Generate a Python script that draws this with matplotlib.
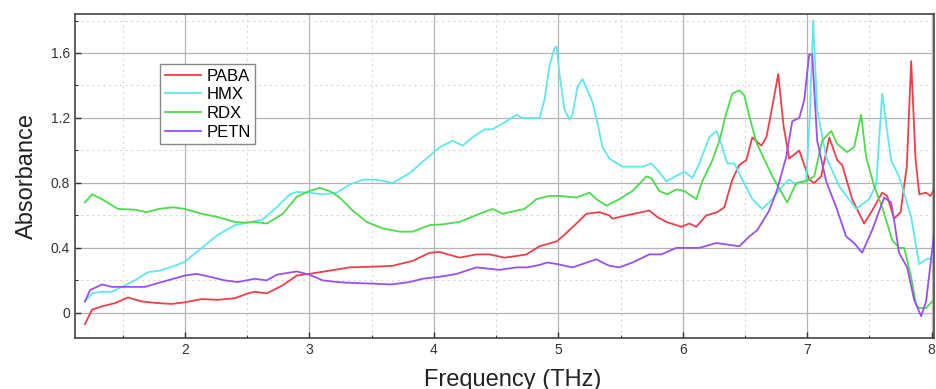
import matplotlib
matplotlib.use("Agg")
import matplotlib.pyplot as plt
from matplotlib.ticker import MultipleLocator

plt.rcParams['font.family'] = ['Liberation Sans', 'DejaVu Sans']

# PABA
paba_x = [1.197, 1.254, 1.334, 1.438, 1.543, 1.655, 1.783, 1.896, 2.0, 2.136, 2.265, 2.401,
          2.506, 2.562, 2.658, 2.787, 2.899, 3.0, 3.164, 3.324, 3.541, 3.669, 3.830, 3.966,
          4.047, 4.207, 4.343, 4.448, 4.568, 4.665, 4.745, 4.849, 4.986, 5.034, 5.146, 5.226,
          5.331, 5.411, 5.435, 5.547, 5.732, 5.796, 5.868, 5.989, 6.053, 6.109, 6.189, 6.278,
          6.334, 6.398, 6.454, 6.510, 6.559, 6.631, 6.671, 6.700, 6.767, 6.810, 6.855, 6.936,
          7.016, 7.056, 7.112, 7.177, 7.241, 7.281, 7.361, 7.457, 7.522, 7.602, 7.642, 7.698,
          7.750, 7.800, 7.835, 7.870, 7.900, 7.955, 7.990, 8.035]
paba_y = [-0.07, 0.02, 0.04, 0.06, 0.095, 0.07, 0.06, 0.055, 0.065, 0.085, 0.08, 0.09,
          0.12, 0.13, 0.12, 0.17, 0.23, 0.24, 0.26, 0.28, 0.285, 0.29, 0.32, 0.37,
          0.375, 0.34, 0.36, 0.36, 0.34, 0.35, 0.36, 0.41, 0.44, 0.47, 0.55, 0.61,
          0.62, 0.60, 0.58, 0.60, 0.63, 0.59, 0.56, 0.53, 0.55, 0.53, 0.60, 0.62,
          0.65, 0.82, 0.91, 0.94, 1.08, 1.03, 1.08, 1.19, 1.47, 1.15, 0.95, 1.00,
          0.82, 0.80, 0.84, 1.08, 0.94, 0.91, 0.70, 0.55, 0.63, 0.74, 0.72, 0.58,
          0.62, 0.90, 1.55, 0.95, 0.73, 0.74, 0.72, 0.78]

# HMX
hmx_x = [1.197, 1.254, 1.334, 1.414, 1.494, 1.599, 1.703, 1.799, 1.920, 2.0, 2.136, 2.265,
         2.401, 2.506, 2.626, 2.738, 2.843, 2.899, 3.0, 3.108, 3.220, 3.324, 3.429, 3.541,
         3.669, 3.806, 3.910, 4.047, 4.151, 4.231, 4.311, 4.408, 4.472, 4.584, 4.665, 4.713,
         4.849, 4.889, 4.929, 4.969, 4.986, 5.010, 5.050, 5.090, 5.114, 5.154, 5.194, 5.234,
         5.274, 5.315, 5.355, 5.411, 5.515, 5.676, 5.748, 5.796, 5.868, 6.013, 6.077, 6.133,
         6.213, 6.270, 6.310, 6.358, 6.414, 6.478, 6.559, 6.639, 6.719, 6.800, 6.855, 6.910,
         6.992, 7.020, 7.048, 7.080, 7.152, 7.257, 7.393, 7.498, 7.554, 7.602, 7.674, 7.738,
         7.835, 7.899, 7.955, 8.035]
hmx_y = [0.07, 0.12, 0.13, 0.13, 0.16, 0.20, 0.25, 0.26, 0.29, 0.315, 0.40, 0.48,
         0.54, 0.555, 0.575, 0.65, 0.73, 0.745, 0.74, 0.73, 0.74, 0.79, 0.82, 0.82,
         0.80, 0.86, 0.93, 1.02, 1.06, 1.03, 1.08, 1.13, 1.13, 1.18, 1.22, 1.20,
         1.20, 1.31, 1.52, 1.63, 1.64, 1.47, 1.25, 1.19, 1.22, 1.39, 1.44, 1.37,
         1.30, 1.17, 1.02, 0.95, 0.90, 0.90, 0.92, 0.88, 0.81, 0.87, 0.83, 0.92,
         1.08, 1.12, 1.04, 0.92, 0.92, 0.82, 0.70, 0.64, 0.70, 0.78, 0.82, 0.79,
         0.82, 1.20, 1.80, 1.25, 0.96, 0.78, 0.64, 0.70, 0.79, 1.35, 0.94, 0.84,
         0.59, 0.30, 0.33, 0.34]

# RDX
rdx_x = [1.197, 1.254, 1.334, 1.462, 1.599, 1.695, 1.790, 1.904, 2.0, 2.136, 2.265, 2.401,
         2.482, 2.562, 2.658, 2.787, 2.899, 3.0, 3.083, 3.164, 3.244, 3.348, 3.461, 3.589,
         3.726, 3.830, 3.966, 4.071, 4.207, 4.368, 4.472, 4.552, 4.729, 4.825, 4.929, 5.010,
         5.146, 5.250, 5.307, 5.387, 5.491, 5.596, 5.708, 5.748, 5.812, 5.876, 5.949, 6.013,
         6.109, 6.157, 6.238, 6.294, 6.350, 6.398, 6.454, 6.494, 6.535, 6.591, 6.720, 6.839,
         6.912, 6.992, 7.056, 7.120, 7.193, 7.241, 7.321, 7.377, 7.433, 7.473, 7.538, 7.602,
         7.682, 7.738, 7.779, 7.835, 7.875, 7.899, 7.955, 8.003, 8.035]
rdx_y = [0.68, 0.73, 0.70, 0.64, 0.635, 0.62, 0.64, 0.65, 0.64, 0.61, 0.59, 0.56,
         0.555, 0.56, 0.55, 0.61, 0.715, 0.75, 0.77, 0.75, 0.71, 0.63, 0.56, 0.52,
         0.50, 0.50, 0.54, 0.545, 0.56, 0.61, 0.64, 0.61, 0.64, 0.70, 0.72, 0.72,
         0.71, 0.74, 0.70, 0.66, 0.70, 0.75, 0.84, 0.83, 0.75, 0.73, 0.76, 0.75,
         0.70, 0.81, 0.94, 1.06, 1.23, 1.35, 1.37, 1.34, 1.21, 1.05, 0.84, 0.68,
         0.80, 0.81, 0.84, 1.06, 1.12, 1.04, 0.99, 1.02, 1.22, 0.96, 0.78, 0.65,
         0.45, 0.40, 0.40, 0.22, 0.05, 0.03, 0.03, 0.07, 0.08]

# PETN
petn_x = [1.197, 1.238, 1.334, 1.414, 1.518, 1.679, 1.815, 2.0, 2.096, 2.185, 2.321, 2.425,
          2.562, 2.658, 2.738, 2.899, 3.0, 3.108, 3.220, 3.324, 3.509, 3.661, 3.806, 3.910,
          4.071, 4.183, 4.343, 4.528, 4.665, 4.753, 4.849, 4.913, 4.994, 5.114, 5.307, 5.355,
          5.411, 5.491, 5.596, 5.732, 5.828, 5.949, 6.133, 6.270, 6.454, 6.535, 6.599, 6.695,
          6.759, 6.831, 6.880, 6.936, 6.976, 7.016, 7.040, 7.080, 7.152, 7.233, 7.313, 7.377,
          7.441, 7.522, 7.618, 7.674, 7.698, 7.738, 7.803, 7.859, 7.915, 7.955, 7.995, 8.035]
petn_y = [0.07, 0.14, 0.175, 0.16, 0.16, 0.16, 0.19, 0.23, 0.24, 0.225, 0.20, 0.19,
          0.21, 0.20, 0.235, 0.255, 0.235, 0.20, 0.19, 0.185, 0.18, 0.175, 0.19, 0.21,
          0.225, 0.24, 0.28, 0.265, 0.28, 0.28, 0.295, 0.31, 0.30, 0.28, 0.33, 0.31,
          0.29, 0.28, 0.31, 0.36, 0.36, 0.40, 0.40, 0.43, 0.41, 0.47, 0.51, 0.63,
          0.76, 0.96, 1.18, 1.20, 1.31, 1.59, 1.59, 1.06, 0.81, 0.65, 0.47, 0.43,
          0.37, 0.51, 0.71, 0.68, 0.57, 0.37, 0.28, 0.08, -0.02, 0.07, 0.33, 0.59]

names = ["PABA", "HMX", "RDX", "PETN"]
colors = ["#ef3f48", "#5ee8ee", "#4cdc4c", "#9a50f0"]

fig = plt.figure(figsize=(9.37, 3.89), dpi=100)
ax = fig.add_axes([0.080, 0.131, 0.917, 0.833])

series = [(paba_x, paba_y), (hmx_x, hmx_y), (rdx_x, rdx_y), (petn_x, petn_y)]
for (xs, ys), name, c in zip(series, names, colors):
    ax.plot(xs, ys, color=c, lw=1.3, label=name)

ax.set_xlim(1.117, 8.02)
ax.set_ylim(-0.155, 1.84)
ax.xaxis.set_major_locator(MultipleLocator(1))
ax.xaxis.set_minor_locator(MultipleLocator(0.5))
ax.yaxis.set_major_locator(MultipleLocator(0.4))
ax.yaxis.set_minor_locator(MultipleLocator(0.2))
ax.set_yticks([0, 0.4, 0.8, 1.2, 1.6])
ax.set_yticklabels(["0", "0.4", "0.8", "1.2", "1.6"])
ax.set_xticks([2, 3, 4, 5, 6, 7, 8])

ax.grid(which='major', color='#b4b4b4', lw=0.9, ls='-')
ax.grid(which='minor', color='#d8d8d8', lw=0.8, ls=(0, (2, 3)))
ax.set_axisbelow(True)

ax.tick_params(which='both', direction='in', colors='#333333', labelsize=10,
               labelcolor='#333333')
ax.tick_params(which='major', length=4, width=1)
ax.tick_params(which='minor', length=2.5, width=0.8)
for s in ax.spines.values():
    s.set_color('#444444')
    s.set_linewidth(1.2)

ax.set_xlabel("Frequency (THz)", fontsize=17, color='#222222', labelpad=2)
ax.xaxis.set_label_coords(0.51, -0.095, transform=ax.transAxes)
ax.set_ylabel("Absorbance", fontsize=17, color='#222222', labelpad=9)

leg = ax.legend(loc='upper left', bbox_to_anchor=(0.099, 0.846), fontsize=12,
                handlelength=2.2, handletextpad=0.3, labelspacing=0.22,
                borderpad=0.28, borderaxespad=0, fancybox=False, framealpha=1,
                edgecolor='#888888')
leg.get_frame().set_linewidth(1.0)

fig.savefig("out.png", dpi=100)
